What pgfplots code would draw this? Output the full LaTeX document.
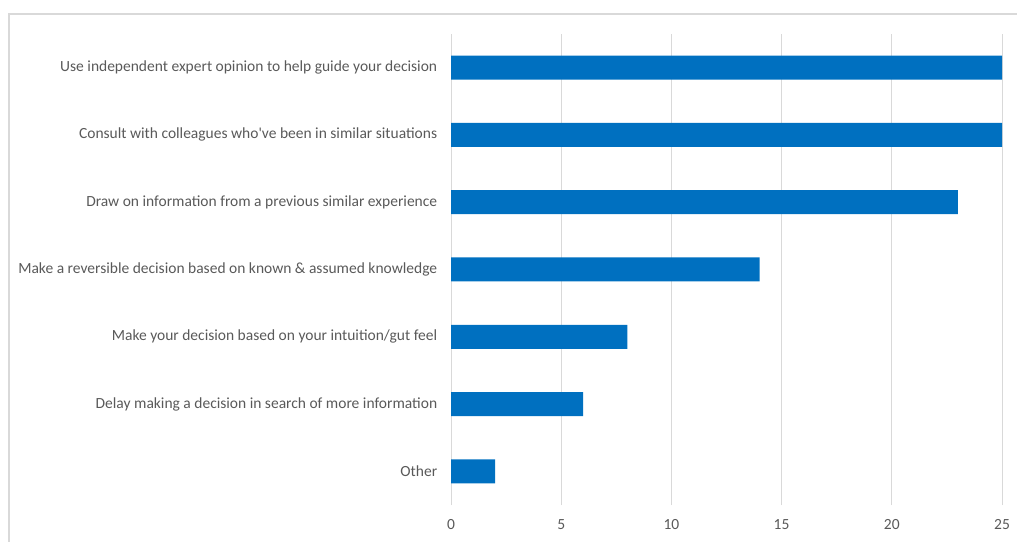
\documentclass[border=0pt]{standalone}
\usepackage{pgfplots}
\pgfplotsset{compat=1.18}
\usepackage{fontspec}
\setmainfont{Carlito}
\definecolor{barblue}{HTML}{0070C0}
\definecolor{gridgray}{HTML}{D9D9D9}
\definecolor{txtgray}{HTML}{595959}
\begin{document}
\begin{tikzpicture}[x=1pt,y=1pt]
\path[use as bounding box] (0,0) rectangle (1017,541);
\draw[gridgray, line width=1.2pt] (9,-5) -- (9,527) -- (1025,527);
\begin{axis}[
  at={(451pt,36pt)}, anchor=south west,
  scale only axis, width=551pt, height=471pt,
  xmin=0, xmax=25, ymin=-0.5, ymax=6.5,
  xbar, bar width=24pt,
  xtick={0,5,...,25}, ytick={0,...,6},
  yticklabels={Other,Delay making a decision in search of more information,Make your decision based on your intuition/gut feel,Make a reversible decision based on known \& assumed knowledge,Draw on information from a previous similar experience,Consult with colleagues who\textquotesingle ve been in similar situations,Use independent expert opinion to help guide your decision},
  axis line style={draw=none},
  xmajorgrids, major grid style={gridgray, line width=1pt},
  tick style={draw=none},
  ticklabel style={text=txtgray, font=\fontsize{15.5}{18}\selectfont},
  /pgf/number format/assume math mode=true,
  xticklabel style={yshift=-11pt},
  yticklabel style={xshift=-6pt},
]
\addplot[fill=barblue, draw=none] coordinates {(2,0) (6,1) (8,2) (14,3) (23,4) (25,5) (25,6)};
\end{axis}
\end{tikzpicture}
\end{document}
